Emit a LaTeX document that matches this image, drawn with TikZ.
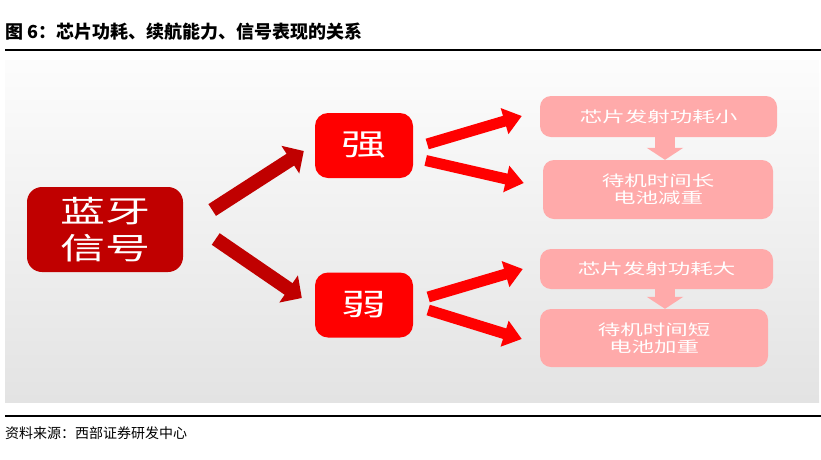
\documentclass[tikz,border=0pt]{standalone}
\usepackage{fontspec}
\usepackage{graphicx}
\usepackage{tikz}
\usetikzlibrary{arrows.meta}
\setmainfont{Noto Sans CJK SC}

\definecolor{darkred}{HTML}{C00000}
\definecolor{brightred}{HTML}{FF0000}
\definecolor{pinkbox}{HTML}{FFAAAA}

% the slide text is stretched sideways
\newcommand{\wide}[1]{\scalebox{1.5}[1]{#1}}

\begin{document}
\begin{tikzpicture}[x=1pt, y=-1pt,
    box/.style={text=white, inner sep=0pt, align=center},
    bigbox/.style={box, fill=darkred, rounded corners=15pt,
        minimum width=156pt, minimum height=85pt, font=\fontsize{30}{37}\selectfont},
    midbox/.style={box, fill=brightred, rounded corners=13pt,
        minimum width=98pt, minimum height=65pt, font=\fontsize{30}{37}\selectfont},
    pbox/.style={box, fill=pinkbox, rounded corners=11pt, font=\fontsize{15}{17}\selectfont},
    darkarrow/.style={draw=darkred, line width=14pt, -{Triangle[length=16pt,width=32pt]}},
    redarrow/.style={draw=brightred, line width=11pt, -{Triangle[length=18pt,width=26pt]}},
    downarrow/.style={draw=pinkbox, line width=20pt, -{Triangle[length=12pt,width=36pt]}}]

    \useasboundingbox (0,0) rectangle (821,459);

    % heading and source
    \node[anchor=west, inner sep=0pt, font=\fontsize{18}{20}\selectfont\bfseries] (title) at (5,32)
        {图 6：芯片功耗、续航能力、信号表现的关系};
    \draw[color=black, line width=1.2pt] (5,50) -- (821,50);
    \draw[color=black, line width=1.2pt] (5,416) -- (821,416);
    \node[anchor=west, inner sep=0pt, font=\fontsize{14}{16}\selectfont] (source) at (5,433)
        {资料来源：西部证券研发中心};

    \shade[top color=black!1, bottom color=black!11] (5,60) rectangle (819,402);

    \node[bigbox] (bt) at (105,229.5) {\wide{蓝牙}\\\wide{信号}};
    \node[midbox] (strong) at (364,145.5) {\wide{强}};
    \node[midbox] (weak) at (364,305) {\wide{弱}};

    \node[pbox, minimum width=237pt, minimum height=41pt] (p1) at (658.5,116.5) {\wide{芯片发射功耗小}};
    \node[pbox, minimum width=230pt, minimum height=59pt] (p2) at (658,189.5) {\wide{待机时间长}\\\wide{电池减重}};
    \node[pbox, minimum width=233pt, minimum height=40pt] (p3) at (656.5,269) {\wide{芯片发射功耗大}};
    \node[pbox, minimum width=228pt, minimum height=58pt] (p4) at (654,338) {\wide{待机时间短}\\\wide{电池加重}};

    \draw[darkarrow] ([shift={(29,-19.5)}]bt.east) -- ([shift={(-11,5.5)}]strong.west);
    \draw[darkarrow] ([shift={(32.5,9.5)}]bt.east) -- ([shift={(-13,-7)}]weak.west);

    \draw[redarrow] ([shift={(14,-1.5)}]strong.east) -- ([shift={(-18,-0.5)}]p1.west);
    \draw[redarrow] ([shift={(12.5,15)}]strong.east) -- ([shift={(-19,-6.5)}]p2.west);
    \draw[redarrow] ([shift={(15,-8)}]weak.east) -- ([shift={(-17,0)}]p3.west);
    \draw[redarrow] ([shift={(15,5)}]weak.east) -- ([shift={(-18,1)}]p4.west);

    \draw[downarrow] ([shift={(6.5,0)}]p1.south) -- ([shift={(6.5,0)}]p1.south |- p2.north);
    \draw[downarrow] ([shift={(8.5,0)}]p3.south) -- ([shift={(8.5,0)}]p3.south |- p4.north);

\end{tikzpicture}
\end{document}
